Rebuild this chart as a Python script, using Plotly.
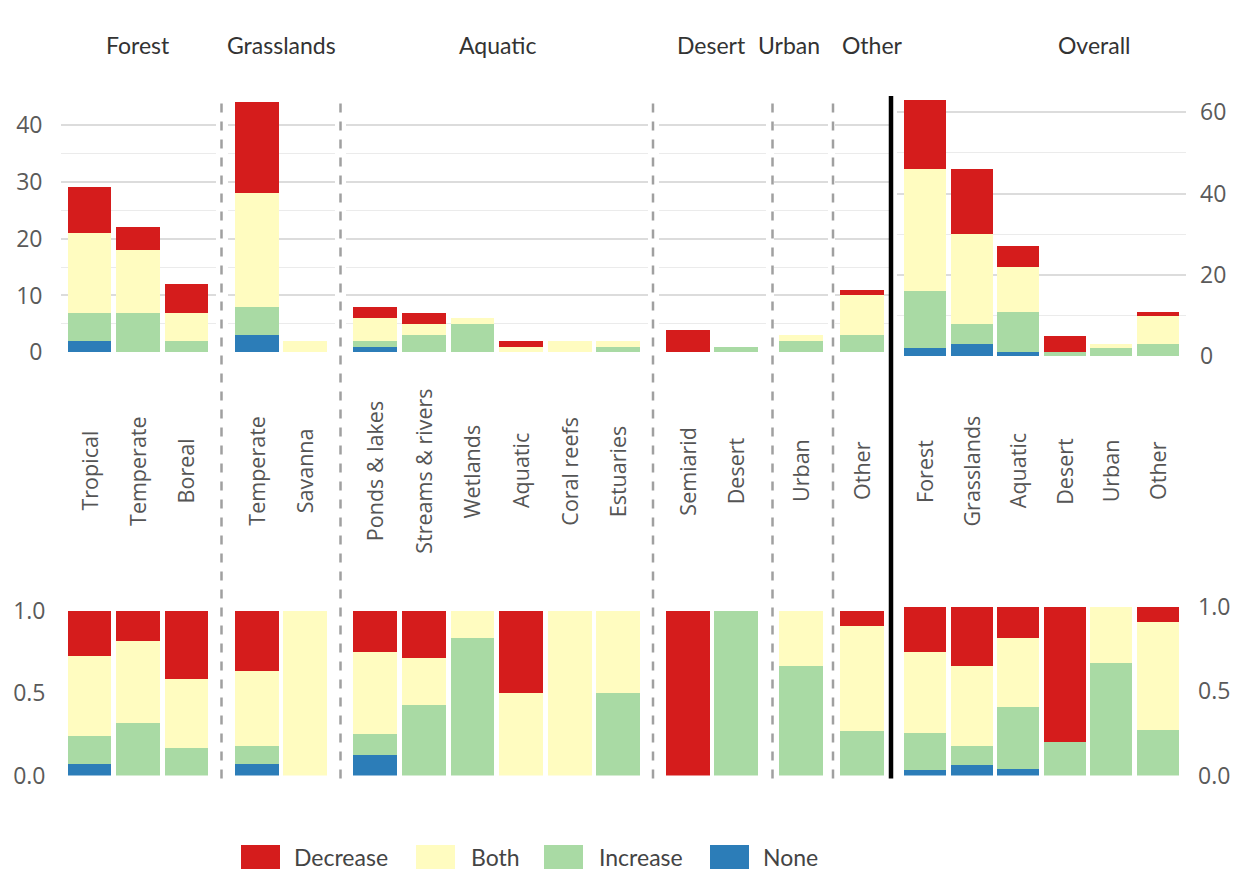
import plotly.graph_objects as go
import numpy as np

W, H = 1234, 884

# ---------------- data ----------------
group_names = ["Forest", "Grasslands", "Aquatic", "Desert", "Urban", "Other"]
group_sizes = [3, 2, 6, 2, 1, 1]
sub_labels = ["Tropical", "Temperate", "Boreal",
              "Temperate", "Savanna",
              "Ponds & lakes", "Streams & rivers", "Wetlands", "Aquatic", "Coral reefs", "Estuaries",
              "Semiarid", "Desert",
              "Urban",
              "Other"]
decrease = [8, 4, 5, 16, 0, 2, 2, 0, 1, 0, 0, 4, 0, 0, 1]
both     = [14, 11, 5, 20, 2, 4, 2, 1, 1, 2, 1, 0, 0, 1, 7]
increase = [5, 7, 2, 5, 0, 1, 3, 5, 0, 0, 1, 0, 1, 2, 3]
none     = [2, 0, 0, 3, 0, 1, 0, 0, 0, 0, 0, 0, 0, 0, 0]

series_names = ["None", "Increase", "Both", "Decrease"]          # bottom -> top
series_colors = {"Decrease": "#d51c1c", "Both": "#fffcc0",
                 "Increase": "#a9daa4", "None": "#2c7db8"}
legend_order = ["Decrease", "Both", "Increase", "None"]
series_values = {"None": none, "Increase": increase, "Both": both, "Decrease": decrease}

overall_title = "Overall"

# ---------------- helpers ----------------
def xd(a, b):
    return [a / W, b / W]

def yd(top, bottom):
    return [1 - bottom / H, 1 - top / H]

def ax_name(kind, i):
    return kind + ("" if i == 1 else str(i))

def ax_key(kind, i):
    return kind + "axis" + ("" if i == 1 else str(i))

# panel layout (pixels)
panel_x_px = [(60.5, 215.5), (227.5, 334.5), (346, 647.5), (658.5, 765.5),
              (774, 828), (835, 889), (897, 1186)]
top_left_y = (82, 348)
top_right_y = (82, 352)
bot_left_y = (616, 787)
bot_right_y = (612, 787)

tick_font = dict(family="Open Sans", size=23, color="#5a5a5a")
label_font = dict(family="Open Sans", size=21.5, color="#555555")
head_font = dict(family="Lato", size=23, color="#333333")

# build panels: list of (labels, {series: values})
panels = []
start = 0
for g, n in zip(group_names, group_sizes):
    labs = sub_labels[start:start + n]
    vals = {s: np.array(series_values[s][start:start + n], dtype=float) for s in series_names}
    panels.append((labs, vals))
    start += n
overall_vals = {s: np.array([panels[k][1][s].sum() for k in range(len(group_names))])
                for s in series_names}
panels.append((group_names, overall_vals))

fig = go.Figure()
layout = {}
annotations = []

for p, (labs, vals) in enumerate(panels):
    n = len(labs)
    is_overall = (p == len(panels) - 1)
    totals = sum(vals[s] for s in series_names)
    pad = 0.6 if n > 1 else 0.56
    xr = [-pad, n - 1 + pad]
    top_id = p + 1
    bot_id = p + 1 + len(panels)
    for row, aid in ((0, top_id), (1, bot_id)):
        for s in series_names:
            y = vals[s] if row == 0 else vals[s] / totals
            fig.add_trace(go.Bar(
                x=labs, y=y, name=s, marker=dict(color=series_colors[s], line=dict(width=0)),
                xaxis=ax_name("x", aid), yaxis=ax_name("y", aid), showlegend=False,
                hovertemplate="%{x}: %{y}<extra>" + s + "</extra>"))
        layout[ax_key("x", aid)] = dict(
            domain=xd(*panel_x_px[p]), anchor=ax_name("y", aid), type="category",
            range=xr, showticklabels=False, showgrid=False, zeroline=False, showline=False,
            ticks="")
    # y axes
    if not is_overall:
        layout[ax_key("y", top_id)] = dict(
            domain=yd(*top_left_y), anchor=ax_name("x", top_id), range=[0, 45.05],
            tickmode="linear", tick0=0, dtick=10, showgrid=True, gridcolor="#dcdcdc",
            gridwidth=1.5, minor=dict(dtick=5, tick0=0, showgrid=True, gridcolor="#ebebeb",
                                      gridwidth=1.3),
            zeroline=False, showline=False, ticks="", showticklabels=(p == 0),
            tickfont=tick_font, ticklabelstandoff=17)
        layout[ax_key("y", bot_id)] = dict(
            domain=yd(*bot_left_y), anchor=ax_name("x", bot_id), range=[0, 1.0],
            tickvals=[0, 0.5, 1.0], tickformat=".1f", showgrid=False, zeroline=False,
            showline=False, ticks="", showticklabels=(p == 0), tickfont=tick_font,
            ticklabelstandoff=14)
    else:
        layout[ax_key("y", top_id)] = dict(
            domain=yd(*top_right_y), anchor=ax_name("x", top_id), range=[0, 64],
            side="right", tickmode="linear", tick0=0, dtick=20, showgrid=True,
            gridcolor="#dcdcdc", gridwidth=1.5,
            minor=dict(dtick=10, tick0=0, showgrid=True, gridcolor="#ebebeb", gridwidth=1.3),
            zeroline=False, showline=False, ticks="", tickfont=tick_font,
            ticklabelstandoff=13)
        layout[ax_key("y", bot_id)] = dict(
            domain=yd(*bot_right_y), anchor=ax_name("x", bot_id), range=[0, 1.0],
            side="right", tickvals=[0, 0.5, 1.0], tickformat=".1f", showgrid=False,
            zeroline=False, showline=False, ticks="", tickfont=tick_font,
            ticklabelstandoff=11)
    # rotated category labels
    for lab in labs:
        annotations.append(dict(
            x=lab, xref=ax_name("x", top_id), y=1 - 471 / H, yref="paper",
            text=lab, textangle=-90, showarrow=False, xanchor="center", yanchor="middle",
            font=label_font))

# group headers
header_texts = group_names + [overall_title]
header_x_px = [138, 281, 497, 711, 789, 872, 1094]
for t, hx in zip(header_texts, header_x_px):
    annotations.append(dict(x=hx / W, y=1 - 29 / H, xref="paper", yref="paper", text=t,
                            showarrow=False, xanchor="center", yanchor="middle", font=head_font))

# separators
shapes = []
for sx in [221.5, 340.5, 653, 772.5, 833]:
    shapes.append(dict(type="line", xref="paper", yref="paper", x0=sx / W, x1=sx / W,
                       y0=1 - 790 / H, y1=1 - 82 / H,
                       line=dict(color="#a0a0a0", width=2.5, dash="dash")))
shapes.append(dict(type="line", xref="paper", yref="paper", x0=891 / W, x1=891 / W,
                   y0=1 - 790 / H, y1=1 - 82 / H, line=dict(color="#000000", width=4.5)))

# legend (drawn manually to get large swatches)
leg_sq_px = [241, 416, 544, 710]
leg_tx_px = [292, 469, 597, 761]
for s, sx, tx in zip(legend_order, leg_sq_px, leg_tx_px):
    shapes.append(dict(type="rect", xref="paper", yref="paper", x0=sx / W, x1=(sx + 39) / W,
                       y0=0, y1=1 - 859 / H, fillcolor=series_colors[s], line=dict(width=0)))
    annotations.append(dict(x=tx / W, y=1 - 872 / H, xref="paper", yref="paper", text=s,
                            showarrow=False, xanchor="left", yanchor="middle",
                            font=dict(family="Lato", size=23, color="#444444")))

fig.update_layout(**layout)
fig.update_layout(
    width=W, height=H, margin=dict(l=0, r=0, t=0, b=0),
    paper_bgcolor="white", plot_bgcolor="white",
    barmode="stack", bargap=0.1, showlegend=False,
    annotations=annotations, shapes=shapes,
)

fig.write_html("out.html")
